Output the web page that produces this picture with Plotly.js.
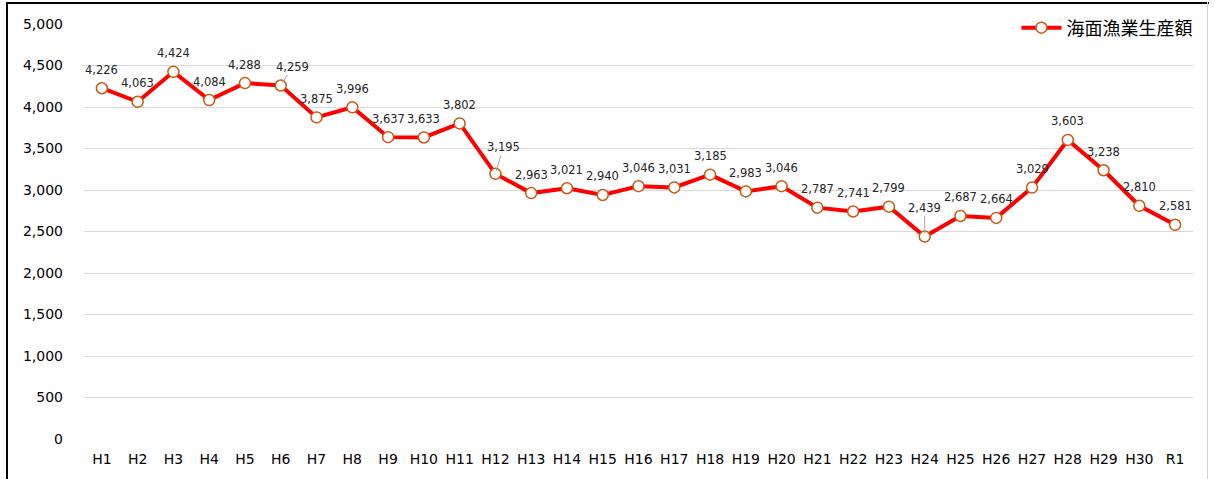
<!DOCTYPE html>
<html>
<head>
<meta charset="utf-8">
<script src="https://cdn.plot.ly/plotly-3.0.1.min.js"></script>
<style>
  html, body { margin: 0; padding: 0; background: #fff; }
  #wrap { position: relative; width: 1215px; height: 479px; overflow: hidden; }
  #chart { position: absolute; left: 0; top: 0; width: 1215px; height: 479px; }
  .fr { position: absolute; pointer-events: none; }
</style>
</head>
<body>
<div id="wrap">
  <div id="chart"></div>
  <div class="fr" style="left:6px; top:2px; width:1203px; height:2px; background:#000;"></div>
  <div class="fr" style="left:6px; top:2px; width:2px; height:477px; background:#000;"></div>
  <div class="fr" style="left:1207px; top:2px; width:1px; height:477px; background:#d0d0d0;"></div>
</div>
<script>
const categories = ["H1","H2","H3","H4","H5","H6","H7","H8","H9","H10","H11","H12","H13","H14","H15","H16","H17","H18","H19","H20","H21","H22","H23","H24","H25","H26","H27","H28","H29","H30","R1"];
const values = [4226,4063,4424,4084,4288,4259,3875,3996,3637,3633,3802,3195,2963,3021,2940,3046,3031,3185,2983,3046,2787,2741,2799,2439,2687,2664,3029,3603,3238,2810,2581];
const seriesName = "海面漁業生産額";
const yTicks = [0,500,1000,1500,2000,2500,3000,3500,4000,4500,5000];

const fmt = v => v.toLocaleString("en-US");
const leader = { "H6": [12, -19], "H12": [8, -27], "H24": [0, -29] };

const annotations = categories.map((c, i) => {
  const base = {
    x: c, y: values[i], xref: "x", yref: "y",
    text: fmt(values[i]),
    font: { family: "DejaVu Sans, Verdana, sans-serif", size: 11.5, color: "#262626" }
  };
  if (leader[c]) {
    return Object.assign(base, {
      showarrow: true, arrowhead: 0, arrowwidth: 1, arrowcolor: "#a6a6a6",
      ax: leader[c][0], ay: leader[c][1], standoff: 3
    });
  }
  return Object.assign(base, { showarrow: false, yanchor: "middle", yshift: 18.5 });
});

const trace = {
  type: "scatter", mode: "lines+markers", name: seriesName,
  x: categories, y: values,
  line: { color: "#ff0000", width: 4 },
  marker: { symbol: "circle", size: 11, color: "#ffffff", line: { color: "#c55a11", width: 1.5 } },
  hoverinfo: "skip"
};

const layout = {
  width: 1215, height: 479,
  margin: { l: 84, r: 22, t: 24, b: 40, autoexpand: false },
  paper_bgcolor: "#ffffff", plot_bgcolor: "#ffffff",
  showlegend: true,
  legend: {
    x: 1.004, xanchor: "right", y: 1.035, yanchor: "top",
    bgcolor: "rgba(0,0,0,0)",
    font: { family: "Noto Sans CJK JP, sans-serif", size: 18, color: "#000" },
    itemwidth: 40
  },
  xaxis: {
    type: "category", range: [-0.5, 30.5],
    showgrid: false, zeroline: false, showline: false, ticks: "",
    tickfont: { family: "DejaVu Sans, Verdana, sans-serif", size: 14, color: "#000" },
    ticklabelstandoff: 10, fixedrange: true
  },
  yaxis: {
    range: [0, 5000], tickvals: yTicks, ticktext: yTicks.map(fmt),
    showgrid: true, gridcolor: "#d9d9d9", gridwidth: 1,
    zeroline: false, showline: false, ticks: "",
    tickfont: { family: "DejaVu Sans, Verdana, sans-serif", size: 14, color: "#000" },
    ticklabelstandoff: 20, fixedrange: true
  },
  annotations: annotations
};

Plotly.newPlot("chart", [trace], layout, { staticPlot: true, displayModeBar: false });
</script>
</body>
</html>
